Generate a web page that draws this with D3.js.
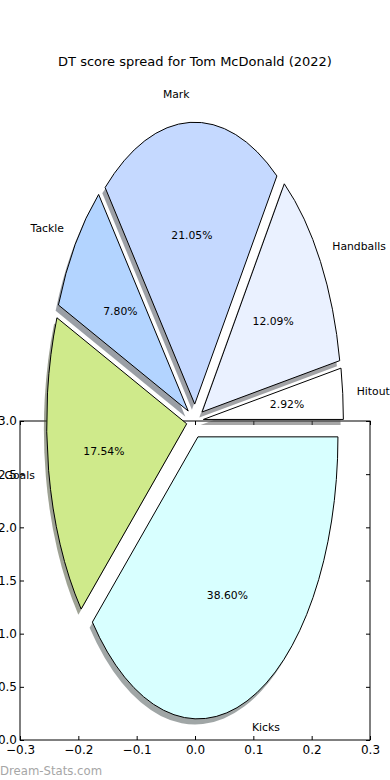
<!DOCTYPE html>
<html><head><meta charset="utf-8">
<script src="https://cdn.jsdelivr.net/npm/d3@7"></script>
<style>html,body{margin:0;padding:0;background:#fff;}svg{display:block;font-family:"DejaVu Sans",sans-serif;}</style>
</head><body>
<svg id="c" width="390" height="780"></svg>
<script>
// data (matplotlib order: counter-clockwise from east)
const labels = ["Hitout","Handballs","Mark","Tackle","Goals","Kicks"];
const values = [2.92, 12.09, 21.05, 7.80, 17.54, 38.60];
const colors = ["#ffffff","#eaf1ff","#c5d9ff","#b3d4ff","#cfea8b","#d8ffff"];
const explode = [0.06,0.06,0.06,0.06,0.06,0.06];
const xTicks = [-0.3,-0.2,-0.1,0.0,0.1,0.2,0.3];
const yTicks = [0.0,0.5,1.0,1.5,2.0,2.5,3.0];
const title = "DT score spread for Tom McDonald (2022)";

const svg = d3.select("#c");
const L=20,R=370,T=421,B=740;
const x = d3.scaleLinear().domain([-0.3,0.3]).range([L,R]);
const y = d3.scaleLinear().domain([0,3]).range([B,T]);
const fmt = d => d3.format(".1f")(d).replace("-","\u2212");

// axes frame & ticks (drawn under the pie)
const ax = svg.append("g");
ax.append("g").attr("transform",`translate(0,${B})`)
  .call(d3.axisBottom(x).tickValues(xTicks).tickSizeInner(-4).tickSizeOuter(0).tickPadding(5).tickFormat(fmt));
ax.append("g").attr("transform",`translate(0,${T})`)
  .call(d3.axisTop(x).tickValues(xTicks).tickSizeInner(-4).tickSizeOuter(0).tickFormat(""));
ax.append("g").attr("transform",`translate(${L},0)`)
  .call(d3.axisLeft(y).tickValues(yTicks).tickSizeInner(-4).tickSizeOuter(0).tickPadding(3).tickFormat(fmt));
ax.append("g").attr("transform",`translate(${R},0)`)
  .call(d3.axisRight(y).tickValues(yTicks).tickSizeInner(-4).tickSizeOuter(0).tickFormat(""));
ax.selectAll(".domain").remove();
ax.selectAll(".tick text").attr("font-size",12).attr("fill","#000").attr("font-family","DejaVu Sans");
ax.selectAll(".tick line").attr("stroke","#000");
ax.append("rect").attr("x",L).attr("y",T).attr("width",R-L).attr("height",B-T)
  .attr("fill","none").attr("stroke","#000").attr("stroke-width",1);

// pie (elliptical, matplotlib style)
const cx=195, cy=421, sx=140, sy=282;
const pie = d3.pie().sort(null).startAngle(0).endAngle(2*Math.PI);
const arcs = pie(values);
const arc = d3.arc().innerRadius(0).outerRadius(1);
// matplotlib theta (ccw from east) -> d3 angle = pi/2 - theta
const wedges = arcs.map((a,i)=>{
  const t1=a.startAngle, t2=a.endAngle, tm=(t1+t2)/2;
  const ox = explode[i]*Math.cos(tm), oy = explode[i]*Math.sin(tm);
  return {i, t1, t2, tm, ox, oy, d: arc({startAngle:Math.PI/2-t2, endAngle:Math.PI/2-t1})};
});
const pg = svg.append("g").attr("transform",`translate(${cx},${cy}) scale(${sx},${sy})`);
// shadows first
pg.selectAll("path.sh").data(wedges).join("path").attr("class","sh")
  .attr("d",w=>w.d)
  .attr("transform",w=>`translate(${w.ox-0.02},${-w.oy+0.02})`)
  .attr("fill",w=>{const c=d3.rgb(colors[w.i]);return d3.rgb(c.r*0.3,c.g*0.3,c.b*0.3).toString();})
  .attr("fill-opacity",0.5).attr("stroke","none");
pg.selectAll("path.w").data(wedges).join("path").attr("class","w")
  .attr("d",w=>w.d)
  .attr("transform",w=>`translate(${w.ox},${-w.oy})`)
  .attr("fill",w=>colors[w.i]).attr("stroke","#000").attr("stroke-width",1)
  .attr("vector-effect","non-scaling-stroke").attr("stroke-linejoin","round");

// labels
const tg = svg.append("g").attr("font-size",10.8).attr("fill","#000");
wedges.forEach(w=>{
  const e=explode[w.i], c=Math.cos(w.tm), s=Math.sin(w.tm);
  const lx = cx + (e+1.1)*c*sx, ly = cy - (e+1.1)*s*sy;
  tg.append("text").attr("x",lx).attr("y",ly).attr("dy","0.35em")
    .attr("text-anchor", c>0?"start":"end").text(labels[w.i]);
  const px = cx + (e+0.6)*c*sx, py = cy - (e+0.6)*s*sy;
  tg.append("text").attr("x",px).attr("y",py).attr("dy","0.35em")
    .attr("text-anchor","middle").text(d3.format(".2f")(values[w.i])+"%");
});

svg.append("text").attr("x",195).attr("y",61).attr("dy","0.35em").attr("text-anchor","middle")
  .attr("font-size",13).attr("fill","#000").text(title);
svg.append("text").attr("x",0).attr("y",775).attr("font-size",11.7).attr("fill","#a6a6a6").text("Dream-Stats.com");
</script>
</body></html>
